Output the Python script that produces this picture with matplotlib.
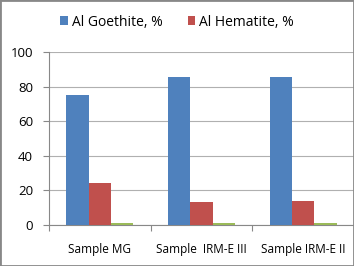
import matplotlib
matplotlib.use("Agg")
import matplotlib.pyplot as plt
import numpy as np

plt.rcParams['font.family'] = ['Open Sans', 'DejaVu Sans']

# data
samples = ["Sample MG", "Sample  IRM-E III", "Sample IRM-E II"]
goethite = [75, 85.5, 85.5]
hematite = [24, 13.5, 13.7]
other = [1.0, 1.2, 0.9]

fig = plt.figure(figsize=(3.54, 2.66), dpi=100)
ax = fig.add_axes([0.138, 0.154, 0.862, 0.651])

x = np.arange(len(samples))
w = 0.22
ax.bar(x - w, goethite, w, color="#4F81BD", label="Al Goethite, %", zorder=3)
ax.bar(x, hematite, w, color="#C0504D", label="Al Hematite, %", zorder=3)
ax.bar(x + w, other, w, color="#9BBB59", zorder=3)

ax.set_xlim(-0.5, 2.5)
ax.set_ylim(0, 100)
ax.set_yticks(range(0, 101, 20))
ax.yaxis.grid(True, color="#b0b0b0", linewidth=0.8, zorder=0)

ax.set_xticks([-0.5, 0.5, 1.5, 2.5])
ax.set_xticklabels([])
ax.set_xticks(x, minor=True)
ax.set_xticklabels(samples, minor=True, fontsize=8.5)
ax.tick_params(axis="x", which="minor", length=0, pad=13)
ax.tick_params(axis="x", which="major", length=4, color="#888888")
ax.tick_params(axis="y", length=4.3, color="#888888", labelsize=9.5, pad=7)

for s in ["top", "right"]:
    ax.spines[s].set_visible(False)
ax.spines["left"].set_color("#888888")
ax.spines["bottom"].set_color("#888888")

fig.legend(loc="center", bbox_to_anchor=(0.5, 1 - 22 / 266), ncol=2, frameon=False,
           fontsize=10, handlelength=0.55, handleheight=0.55, handletextpad=0.3,
           columnspacing=1.8)

fig.patches.append(plt.Rectangle((0, 0), 1, 1, transform=fig.transFigure,
                                 fill=False, edgecolor="#888888", linewidth=2))

fig.savefig("out.png", dpi=100)
